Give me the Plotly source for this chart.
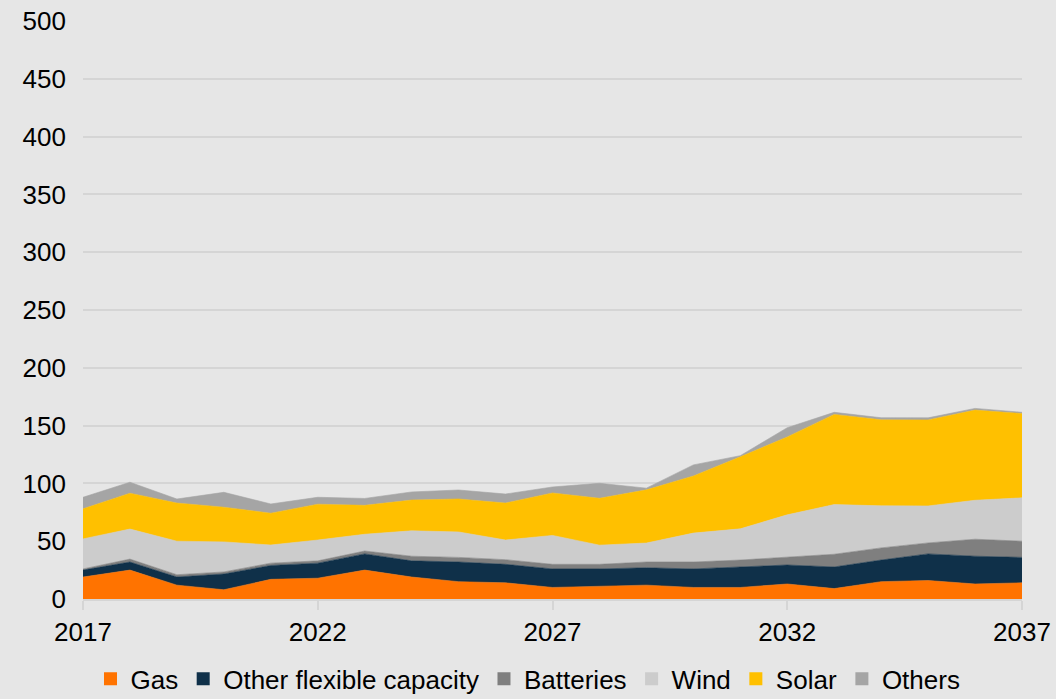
import plotly.graph_objects as go

years = list(range(2017, 2038))

gas = [19, 25, 12, 8, 17, 18, 25, 19, 15, 14, 10, 11, 12, 10, 10, 13, 9, 15, 16, 13, 14]
other_flexible = [6, 7, 7, 13.6, 12, 13, 14, 14, 17, 16, 16, 15, 15, 16, 17.7, 16.4, 18.7, 18.7, 23, 24, 22]
batteries = [1, 2.5, 2, 1.8, 2, 2, 2.5, 4, 4, 4, 4, 4, 5, 6, 6, 7, 11, 10.5, 9.5, 14.7, 14]
wind = [26, 26, 29, 26, 15.7, 18, 14.5, 22, 22, 17, 25, 16.6, 16.4, 25, 27, 36.4, 43, 36.4, 32, 33.7, 37.5]
solar = [26, 31, 33, 30, 27.5, 31, 25, 26.6, 28.5, 32, 36.7, 40.5, 46, 49.4, 62.3, 67.4, 78, 74.4, 74.4, 78, 73]
others = [10, 9.5, 3.5, 12.9, 8, 6, 6, 7, 7.8, 7.8, 5.2, 13, 1.5, 9.6, 1, 8, 1.8, 1.8, 1.8, 1.5, 1]

series = [
    ("Gas", gas, "#ff7300"),
    ("Other flexible capacity", other_flexible, "#0f3049"),
    ("Batteries", batteries, "#7f7f7f"),
    ("Wind", wind, "#cccccc"),
    ("Solar", solar, "#ffc000"),
    ("Others", others, "#a5a5a5"),
]

x_ticks = [2017, 2022, 2027, 2032, 2037]

fig = go.Figure()

for name, values, color in series:
    fig.add_trace(go.Scatter(
        x=years, y=values, name=name, stackgroup="one", mode="lines",
        line=dict(width=0.6, color=color), fillcolor=color, showlegend=False,
    ))

# square legend swatches
for name, values, color in series:
    fig.add_trace(go.Scatter(
        x=[None], y=[None], name=name, mode="markers",
        marker=dict(symbol="square", size=13, color=color), showlegend=True,
    ))

bg = "#e6e6e6"
grid = "#d5d5d5"
fig.update_layout(
    width=1056, height=699,
    margin=dict(l=83, r=34, t=21, b=100, autoexpand=False),
    paper_bgcolor=bg, plot_bgcolor=bg,
    font=dict(family="Liberation Sans, Arial, sans-serif", size=26, color="#000000"),
    showlegend=True,
    legend=dict(
        orientation="h", traceorder="normal",
        xref="container", yref="paper",
        x=0.5, xanchor="center", y=-0.138, yanchor="middle",
        font=dict(size=26), itemwidth=30, bgcolor="rgba(0,0,0,0)",
        tracegroupgap=0,
    ),
    xaxis=dict(
        range=[2017, 2037], tickvals=x_ticks, showgrid=False,
        showline=True, linecolor=grid, linewidth=2,
        ticks="outside", ticklen=9, tickcolor=grid, tickwidth=2,
        zeroline=False, automargin=False,
    ),
    yaxis=dict(
        range=[0, 500], dtick=50, showgrid=True, gridcolor=grid, gridwidth=2,
        zeroline=False, showline=False, ticklabelstandoff=16, automargin=False,
    ),
)

fig.write_html("out.html")
